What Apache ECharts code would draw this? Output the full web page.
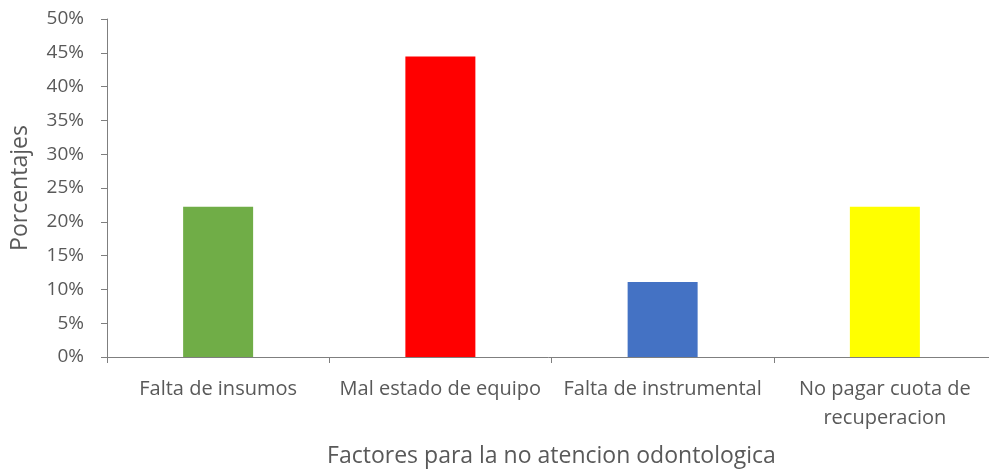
<!DOCTYPE html>
<html>
<head>
<meta charset="utf-8">
<script src="https://cdn.jsdelivr.net/npm/echarts@6/dist/echarts.min.js"></script>
<style>
  html, body { margin: 0; padding: 0; background: #fff; }
  #chart { width: 989px; height: 471px; }
</style>
</head>
<body>
<div id="chart"></div>
<script>
// Factores para la no atención odontológica (porcentajes)
const categories = ['Falta de insumos', 'Mal estado de equipo', 'Falta de instrumental', 'No pagar cuota de\nrecuperacion'];
const values = [22.22, 44.44, 11.11, 22.22];
const barColors = ['#70AD47', '#FF0000', '#4472C4', '#FFFF00'];
const yTicks = { min: 0, max: 50, step: 5 };

const textColor = '#595959';
const fontFamily = '"Open Sans", sans-serif';

const chart = echarts.init(document.getElementById('chart'));
chart.setOption({
  animation: false,
  textStyle: { fontFamily: fontFamily },
  grid: { left: 107, top: 19, width: 889, height: 338, outerBoundsMode: 'none', containLabel: false },
  xAxis: {
    type: 'category',
    data: categories,
    name: 'Factores para la no atencion odontologica',
    nameLocation: 'middle',
    nameGap: 88,
    nameTextStyle: { color: textColor, fontSize: 23, fontFamily: fontFamily },
    axisLine: { lineStyle: { color: '#7F7F7F', width: 1 } },
    axisTick: { show: true, length: 6, alignWithLabel: false, lineStyle: { color: '#7F7F7F' } },
    axisLabel: { color: textColor, fontSize: 20, margin: 18, lineHeight: 29, interval: 0 }
  },
  yAxis: {
    type: 'value',
    min: yTicks.min,
    max: yTicks.max,
    interval: yTicks.step,
    name: 'Porcentajes',
    nameLocation: 'middle',
    nameGap: 75,
    nameTextStyle: { color: textColor, fontSize: 23, fontFamily: fontFamily },
    splitLine: { show: false },
    axisLine: { show: true, lineStyle: { color: '#7F7F7F', width: 1 } },
    axisTick: { show: true, length: 6, lineStyle: { color: '#7F7F7F' } },
    axisLabel: { color: textColor, fontSize: 19, margin: 23, formatter: '{value}%' }
  },
  series: [{
    type: 'bar',
    barWidth: 70,
    data: values.map((v, i) => ({ value: v, itemStyle: { color: barColors[i] } }))
  }]
});
</script>
</body>
</html>
